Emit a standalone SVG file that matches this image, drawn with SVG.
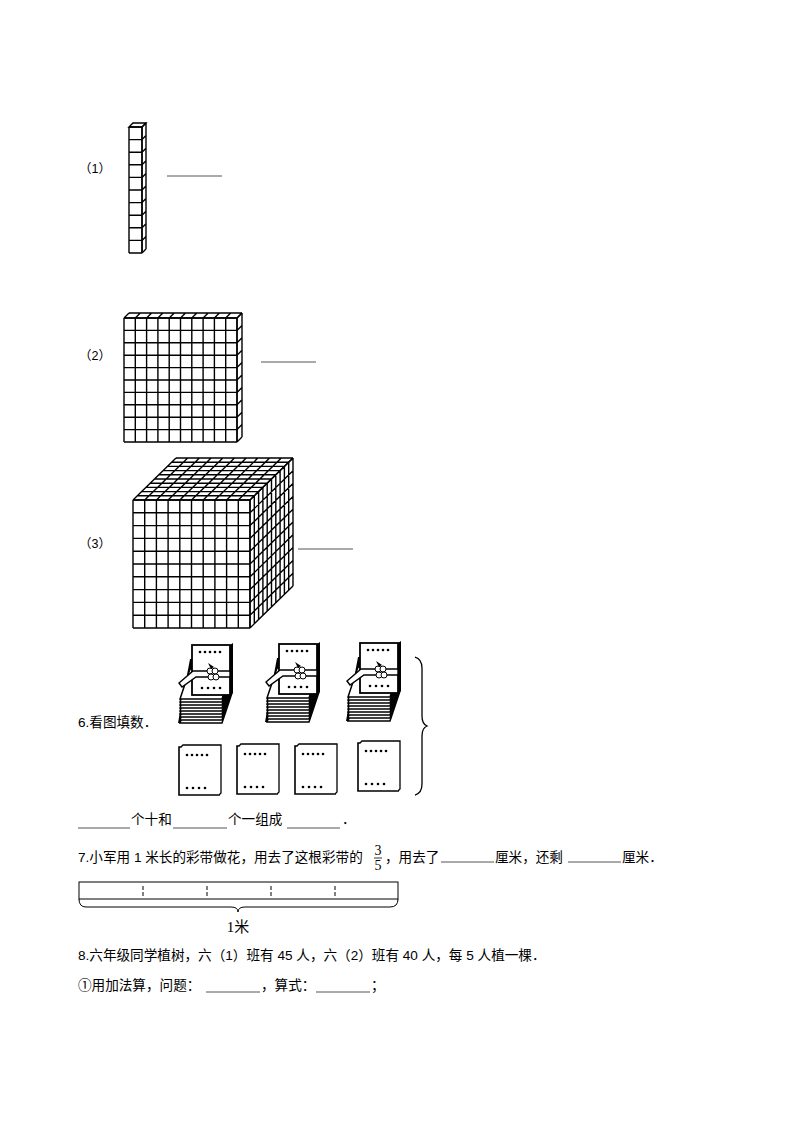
<svg xmlns="http://www.w3.org/2000/svg" width="794" height="1123" viewBox="0 0 794 1123">
<style>
.t{font-family:"Liberation Sans","Noto Sans CJK SC",sans-serif;font-size:13.6px;fill:#000}
.s{font-size:12.5px}
.g{fill:none;stroke:#000;stroke-width:1.4;vector-effect:non-scaling-stroke}
.f{fill:#fff}
.bl{stroke:#555;stroke-width:1}
.c{fill:#fff;stroke:#000;stroke-width:1.6}
.d{fill:#000}
</style>
<rect width="794" height="1123" fill="#fff"/>
<g id="rod">
<path class="f" d="M129 127L133 123H146V249L142 253H129Z"/>
<path class="g" transform="matrix(13,0,0,12.6,129,127)" d="M0 0H1M0 1H1M0 2H1M0 3H1M0 4H1M0 5H1M0 6H1M0 7H1M0 8H1M0 9H1M0 10H1M0 0V10M1 0V10"/>
<path class="g" transform="matrix(13,0,4,-4,129,127)" d="M0 0H1V1H0Z"/>
<path class="g" transform="matrix(4,-4,0,12.6,142,127)" d="M0 0H1M0 1H1M0 2H1M0 3H1M0 4H1M0 5H1M0 6H1M0 7H1M0 8H1M0 9H1M0 10H1M0 0V10M1 0V10"/>
</g>
<g id="flat">
<path class="f" d="M124 318L129 313H242V437L237 442H124Z"/>
<path class="g" transform="matrix(11.3,0,0,12.4,124,318)" d="M0 0H10M0 1H10M0 2H10M0 3H10M0 4H10M0 5H10M0 6H10M0 7H10M0 8H10M0 9H10M0 10H10M0 0V10M1 0V10M2 0V10M3 0V10M4 0V10M5 0V10M6 0V10M7 0V10M8 0V10M9 0V10M10 0V10"/>
<path class="g" transform="matrix(11.3,0,5,-5,124,318)" d="M0 0H10M0 1H10M0 0V1M1 0V1M2 0V1M3 0V1M4 0V1M5 0V1M6 0V1M7 0V1M8 0V1M9 0V1M10 0V1"/>
<path class="g" transform="matrix(5,-5,0,12.4,237,318)" d="M0 0H1M0 1H1M0 2H1M0 3H1M0 4H1M0 5H1M0 6H1M0 7H1M0 8H1M0 9H1M0 10H1M0 0V10M1 0V10"/>
</g>
<g id="cube">
<path class="f" d="M133 500L176 458H293V586L250 628H133Z"/>
<path class="g" transform="matrix(11.7,0,0,12.8,133,500)" d="M0 0H10M0 1H10M0 2H10M0 3H10M0 4H10M0 5H10M0 6H10M0 7H10M0 8H10M0 9H10M0 10H10M0 0V10M1 0V10M2 0V10M3 0V10M4 0V10M5 0V10M6 0V10M7 0V10M8 0V10M9 0V10M10 0V10"/>
<path class="g" transform="matrix(11.7,0,4.3,-4.2,133,500)" d="M0 0H10M0 1H10M0 2H10M0 3H10M0 4H10M0 5H10M0 6H10M0 7H10M0 8H10M0 9H10M0 10H10M0 0V10M1 0V10M2 0V10M3 0V10M4 0V10M5 0V10M6 0V10M7 0V10M8 0V10M9 0V10M10 0V10"/>
<path class="g" transform="matrix(4.3,-4.2,0,12.8,250,500)" d="M0 0H10M0 1H10M0 2H10M0 3H10M0 4H10M0 5H10M0 6H10M0 7H10M0 8H10M0 9H10M0 10H10M0 0V10M1 0V10M2 0V10M3 0V10M4 0V10M5 0V10M6 0V10M7 0V10M8 0V10M9 0V10M10 0V10"/>
</g>
<g id="labels123">
<text class="t s" x="79" y="173">（1）</text>
<line class="bl" x1="167" y1="176" x2="222" y2="176"/>
<text class="t s" x="79" y="360">（2）</text>
<line class="bl" x1="261" y1="362" x2="316" y2="362"/>
<text class="t s" x="79" y="548">（3）</text>
<line class="bl" x1="298" y1="549" x2="353" y2="549"/>
</g>
<defs>
<g id="bundle">
<path d="M0 80L12 16H16L4 80Z" fill="#000"/>
<g fill="#fff" stroke="#000" stroke-width="1.5">
<path d="M2 80H44L54 50H12Z"/>
<path d="M2 77H44L54 47H12Z"/>
<path d="M2 74H44L54 44H12Z"/>
<path d="M2 71H44L54 41H12Z"/>
<path d="M2 68H44L54 38H12Z"/>
<path d="M2 65H44L54 35H12Z"/>
<path d="M2 62H44L54 32H12Z"/>
<path d="M2 59H44L54 29H12Z"/>
<path d="M2 56H44L54 26H12Z"/>
</g>
<rect x="14" y="2" width="38" height="50" fill="#fff" stroke="#000" stroke-width="1.8"/>
<path d="M52 2L55 0V50L52 52Z" fill="#000"/>
<path d="M1 40L15 28H52V34H18L4 44Z" fill="#fff" stroke="#000" stroke-width="1.4"/>
<circle cx="32" cy="28" r="3" fill="#fff" stroke="#000" stroke-width="1"/>
<circle cx="37" cy="28" r="3" fill="#fff" stroke="#000" stroke-width="1"/>
<circle cx="33" cy="34" r="3" fill="#fff" stroke="#000" stroke-width="1"/>
<circle cx="38" cy="34" r="3" fill="#fff" stroke="#000" stroke-width="1"/>
<path d="M30 20L36 24L33 26Z" fill="#000"/>
<g class="d"><circle cx="22" cy="9" r="1.3"/><circle cx="27" cy="9" r="1.3"/><circle cx="32" cy="9" r="1.3"/><circle cx="37" cy="9" r="1.3"/><circle cx="42" cy="9" r="1.3"/>
<circle cx="24" cy="45" r="1.3"/><circle cx="30" cy="45" r="1.3"/><circle cx="36" cy="45" r="1.3"/><circle cx="42" cy="45" r="1.3"/></g>
</g>
<g id="card">
<path d="M0 2H40V50H0Z" class="c"/>
<path d="M2 2L4 0H42V48L40 50" fill="#fff" stroke="#000" stroke-width="1.3"/>
<g class="d"><circle cx="8" cy="10" r="1.3"/><circle cx="13" cy="10" r="1.3"/><circle cx="18" cy="10" r="1.3"/><circle cx="23" cy="10" r="1.3"/><circle cx="28" cy="10" r="1.3"/>
<circle cx="8" cy="43" r="1.3"/><circle cx="14" cy="43" r="1.3"/><circle cx="20" cy="43" r="1.3"/><circle cx="26" cy="43" r="1.3"/></g>
</g>
</defs>
<g id="q6">
<use href="#bundle" x="178" y="643"/>
<use href="#bundle" x="265" y="642"/>
<use href="#bundle" x="346" y="641"/>
<use href="#card" x="179" y="745"/>
<use href="#card" x="237" y="744"/>
<use href="#card" x="295" y="744"/>
<use href="#card" x="358" y="741"/>
<path d="M415 657Q422 659 422 668V716Q422 724 427 726Q422 728 422 736V784Q422 793 415 795" fill="none" stroke="#000" stroke-width="1.3"/>
<text class="t" x="78" y="727">6.看图填数．</text>
<line class="bl" x1="78" y1="828" x2="130" y2="828"/>
<text class="t" x="131" y="824">个十和</text>
<line class="bl" x1="173" y1="828" x2="227" y2="828"/>
<text class="t" x="228" y="824">个一组成</text>
<line class="bl" x1="287" y1="828" x2="340" y2="828"/>
<text class="t" x="342" y="824">．</text>
</g>
<g id="q7">
<text class="t" x="78" y="862">7.小军用 1 米长的彩带做花，用去了这根彩带的</text>
<text x="378" y="855" font-family="Liberation Serif,serif" font-size="14" text-anchor="middle">3</text>
<line x1="374" y1="858" x2="382" y2="858" stroke="#000" stroke-width="0.8"/>
<text x="378" y="870" font-family="Liberation Serif,serif" font-size="14" text-anchor="middle">5</text>
<text class="t" x="385" y="862">，用去了</text>
<line class="bl" x1="441" y1="862" x2="494" y2="862"/>
<text class="t" x="495" y="862">厘米，还剩</text>
<line class="bl" x1="568" y1="862" x2="621" y2="862"/>
<text class="t" x="622" y="862">厘米．</text>
<rect x="79" y="882" width="319" height="17" fill="none" stroke="#000" stroke-width="1"/>
<g stroke="#000" stroke-width="1" stroke-dasharray="4,2">
<line x1="143" y1="886" x2="143" y2="897"/><line x1="207" y1="886" x2="207" y2="897"/><line x1="271" y1="886" x2="271" y2="897"/><line x1="335" y1="886" x2="335" y2="897"/>
</g>
<path d="M79 899Q79 907 86 907H231Q238 907 238 912Q238 907 245 907H390Q398 907 398 899" fill="none" stroke="#000" stroke-width="1"/>
<text x="238" y="932" font-family="Liberation Serif,'Noto Sans CJK SC',serif" font-size="15" text-anchor="middle">1米</text>
</g>
<g id="q8">
<text class="t" x="78" y="960">8.六年级同学植树，六（1）班有 45 人，六（2）班有 40 人，每 5 人植一棵．</text>
<text class="t" x="78" y="990">①用加法算，问题：</text>
<line class="bl" x1="206" y1="992" x2="260" y2="992"/>
<text class="t" x="261" y="990">，算式：</text>
<line class="bl" x1="316" y1="992" x2="370" y2="992"/>
<text class="t" x="371" y="990">；</text>
</g>
</svg>
